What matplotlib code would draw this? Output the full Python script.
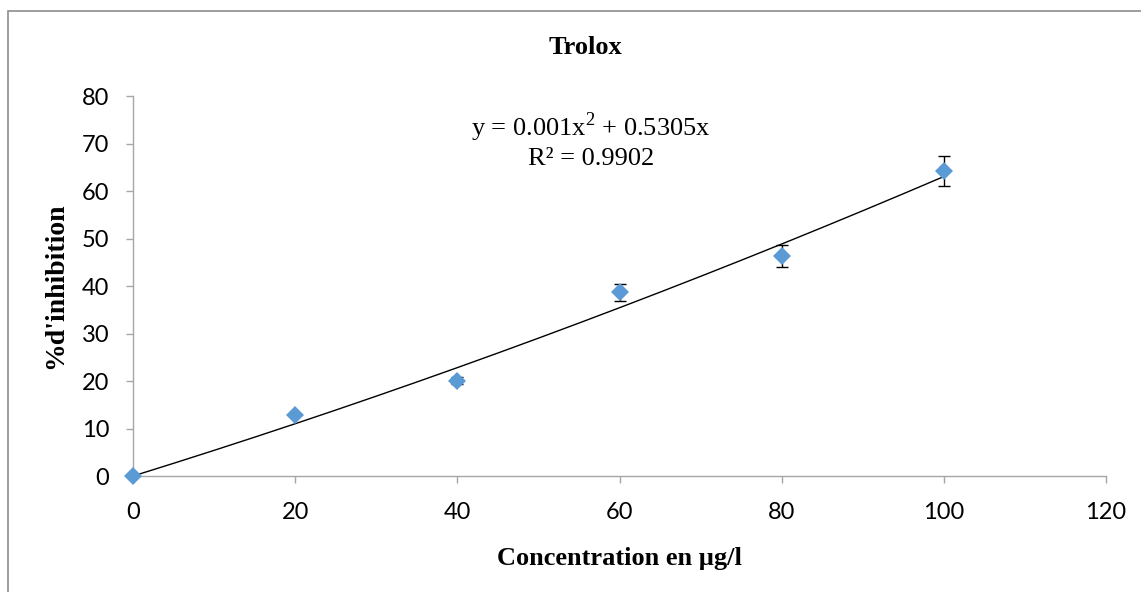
import numpy as np
import matplotlib
matplotlib.use("Agg")
import matplotlib.pyplot as plt
from matplotlib.patches import Rectangle

# Data
concentration = [0, 20, 40, 60, 80, 100]
inhibition = [0, 12.8, 20.1, 38.7, 46.3, 64.2]
errors = [0, 0, 0.8, 1.8, 2.3, 3.2]

# polynomial trendline shown on the chart
coef_a = 0.001
coef_b = 0.5305
r_squared = 0.9902

plt.rcParams['mathtext.fontset'] = 'custom'
plt.rcParams['mathtext.rm'] = 'Liberation Serif'

fig = plt.figure(figsize=(11.41, 5.92), dpi=100)
ax = fig.add_axes([0.1166, 0.1959, 0.8527, 0.6419])

# outer chart border (Excel style)
fig.patches.append(Rectangle((8 / 1141, -0.1), 1.2, 1 - 11 / 592 + 0.1,
                             transform=fig.transFigure, fill=False,
                             edgecolor='#8c8c8c', linewidth=1.2))

xfit = np.linspace(0, 100, 200)
yfit = coef_a * xfit ** 2 + coef_b * xfit
ax.plot(xfit, yfit, color='black', linewidth=1.0, zorder=2)

ax.errorbar(concentration, inhibition, yerr=errors, fmt='none',
            ecolor='black', elinewidth=1.0, capsize=4.3, capthick=1.0, zorder=3)
ax.plot(concentration, inhibition, linestyle='none', marker='D',
        markersize=9.5, color='#5B9BD5', markeredgewidth=0, zorder=4,
        clip_on=False)

ax.set_xlim(0, 120)
ax.set_ylim(0, 80)
ax.set_xticks(range(0, 121, 20))
ax.set_yticks(range(0, 81, 10))

for side in ['top', 'right']:
    ax.spines[side].set_visible(False)
for side in ['left', 'bottom']:
    ax.spines[side].set_color('#a6a6a6')
    ax.spines[side].set_linewidth(1.0)

ax.tick_params(axis='both', direction='out', length=5, width=1.0,
               color='#a6a6a6', labelsize=17)
ax.tick_params(axis='x', pad=14)
ax.tick_params(axis='y', pad=12)
for lab in ax.get_xticklabels() + ax.get_yticklabels():
    lab.set_fontfamily('Lato')

ax.set_xlabel("Concentration en µg/l", fontsize=19, fontweight='bold',
              family='Liberation Serif', labelpad=17)
ax.set_ylabel("%d'inhibition", fontsize=20, fontweight='bold',
              family='Liberation Serif', labelpad=10)

fig.text(0.513, 1 - 48 / 592, "Trolox", ha='center', va='center',
         fontsize=19, fontweight='bold', family='Liberation Serif')

ax.text(56.5, 73.5, "y = 0.001x$^{2}$ + 0.5305x", ha='center', va='center',
        fontsize=19, family='Liberation Serif')
ax.text(56.5, 66.8, "R² = 0.9902", ha='center', va='center',
        fontsize=19, family='Liberation Serif')

fig.savefig("out.png", dpi=100)
